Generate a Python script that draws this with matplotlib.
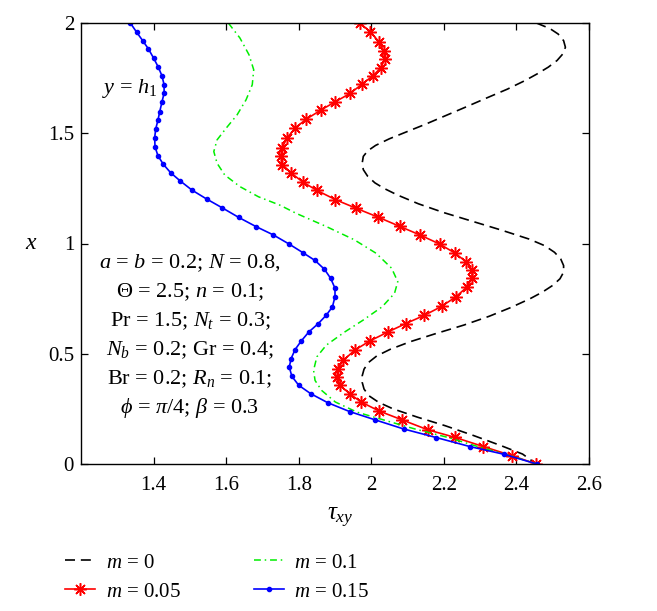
import matplotlib
matplotlib.use('Agg')
import matplotlib.pyplot as plt
from matplotlib.ticker import FuncFormatter

plt.rcParams['font.family'] = ['Liberation Serif', 'DejaVu Serif']
plt.rcParams['mathtext.fontset'] = 'custom'
plt.rcParams['mathtext.rm'] = 'Liberation Serif'
plt.rcParams['mathtext.it'] = 'Liberation Serif:italic'
plt.rcParams['mathtext.bf'] = 'Liberation Serif:bold'

# ---------------- data (tau_xy, x) ----------------
m0_tau = [2.455, 2.492, 2.515, 2.530, 2.535, 2.528, 2.512, 2.488, 2.458, 2.425, 2.375, 2.318,
          2.262, 2.205, 2.148, 2.095, 2.050, 2.012, 1.990, 1.978, 1.975, 1.978, 1.990, 2.010,
          2.035, 2.072, 2.130, 2.200, 2.280, 2.360, 2.435, 2.478, 2.505, 2.522, 2.530, 2.530,
          2.520, 2.500, 2.472, 2.438, 2.385, 2.325, 2.255, 2.175, 2.108, 2.052, 2.015, 1.992,
          1.980, 1.975, 1.975, 1.980, 1.993, 2.020, 2.060, 2.128, 2.203, 2.282, 2.358, 2.417,
          2.455]
m0_x = [2.000, 1.975, 1.950, 1.920, 1.890, 1.860, 1.830, 1.800, 1.770, 1.740, 1.700, 1.660,
        1.620, 1.580, 1.540, 1.505, 1.475, 1.445, 1.420, 1.395, 1.365, 1.335, 1.305, 1.275,
        1.250, 1.220, 1.180, 1.140, 1.100, 1.060, 1.020, 0.990, 0.960, 0.930, 0.900, 0.870,
        0.840, 0.810, 0.780, 0.750, 0.710, 0.670, 0.630, 0.590, 0.555, 0.520, 0.490, 0.460,
        0.430, 0.400, 0.370, 0.340, 0.310, 0.280, 0.250, 0.212, 0.174, 0.129, 0.083, 0.045,
        0.000]

m005_tau = [1.968, 1.997, 2.021, 2.034, 2.037, 2.027, 2.004, 1.974, 1.942, 1.901, 1.861, 1.820,
            1.791, 1.768, 1.754, 1.751, 1.755, 1.779, 1.811, 1.850, 1.901, 1.958, 2.018, 2.078,
            2.135, 2.189, 2.232, 2.261, 2.278, 2.278, 2.264, 2.233, 2.194, 2.146, 2.095, 2.045,
            1.996, 1.954, 1.923, 1.908, 1.906, 1.914, 1.940, 1.972, 2.022, 2.085, 2.156, 2.230,
            2.309, 2.387, 2.455]
m005_x = [2.000, 1.961, 1.915, 1.874, 1.836, 1.798, 1.760, 1.722, 1.681, 1.643, 1.605, 1.563,
          1.525, 1.479, 1.434, 1.396, 1.358, 1.320, 1.279, 1.241, 1.199, 1.160, 1.120, 1.078,
          1.038, 0.997, 0.955, 0.917, 0.879, 0.845, 0.803, 0.758, 0.715, 0.674, 0.637, 0.598,
          0.558, 0.516, 0.470, 0.432, 0.395, 0.357, 0.319, 0.281, 0.240, 0.200, 0.155, 0.121,
          0.079, 0.038, 0.000]

m01_tau = [1.606, 1.638, 1.663, 1.676, 1.672, 1.655, 1.630, 1.600, 1.575, 1.566, 1.575, 1.596,
           1.638, 1.689, 1.748, 1.794, 1.876, 1.953, 2.013, 2.056, 2.073, 2.064, 2.030, 1.978,
           1.927, 1.876, 1.850, 1.841, 1.845, 1.863, 1.901, 1.961, 2.040, 2.120, 2.210, 2.300,
           2.383, 2.455]
m01_x = [2.000, 1.932, 1.856, 1.788, 1.720, 1.652, 1.583, 1.523, 1.470, 1.417, 1.364, 1.311,
         1.258, 1.212, 1.174, 1.136, 1.077, 1.017, 0.956, 0.888, 0.827, 0.774, 0.713, 0.653,
         0.599, 0.539, 0.486, 0.425, 0.379, 0.334, 0.281, 0.235, 0.197, 0.159, 0.121, 0.076,
         0.038, 0.000]

m015_tau = [1.336, 1.353, 1.370, 1.386, 1.400, 1.413, 1.423, 1.429, 1.429, 1.423, 1.417, 1.412,
            1.406, 1.403, 1.404, 1.412, 1.427, 1.447, 1.474, 1.506, 1.546, 1.589, 1.635, 1.682,
            1.730, 1.773, 1.811, 1.845, 1.871, 1.888, 1.900, 1.900, 1.893, 1.876, 1.854, 1.828,
            1.807, 1.790, 1.779, 1.774, 1.781, 1.800, 1.833, 1.880, 1.940, 2.011, 2.089, 2.179,
            2.272, 2.366, 2.456]
m015_x = [2.000, 1.959, 1.920, 1.882, 1.841, 1.800, 1.761, 1.720, 1.682, 1.641, 1.598, 1.559,
          1.520, 1.480, 1.439, 1.398, 1.359, 1.321, 1.283, 1.242, 1.202, 1.162, 1.118, 1.077,
          1.039, 0.998, 0.959, 0.923, 0.883, 0.842, 0.797, 0.759, 0.713, 0.675, 0.637, 0.599,
          0.558, 0.519, 0.478, 0.440, 0.398, 0.357, 0.319, 0.278, 0.238, 0.200, 0.159, 0.120,
          0.079, 0.044, 0.000]

labels = ['$m$ = 0', '$m$ = 0.05', '$m$ = 0.1', '$m$ = 0.15']
xticks = [1.4, 1.6, 1.8, 2.0, 2.2, 2.4, 2.6]
yticks = [0, 0.5, 1.0, 1.5, 2.0]

param_lines = [r'$a$ = $b$ = 0.2; $N$ = 0.8,',
               r'$\Theta$ = 2.5; $n$ = 0.1;',
               r'Pr = 1.5; $N_t$ = 0.3;',
               r'$N_b$ = 0.2; Gr = 0.4;',
               r'Br = 0.2; $R_n$ = 0.1;',
               r'$\phi$ = $\pi/4$; $\beta$ = 0.3']

FS = 15

fig = plt.figure(figsize=(6.57, 6.11), dpi=100)
ax = fig.add_axes([81/657, 1-464/611, (589-81)/657, (464-23)/611])

h0, = ax.plot(m0_tau, m0_x, color='black', lw=1.2, linestyle=(0, (6, 3.5)))
h1, = ax.plot(m005_tau, m005_x, color='#ff0000', lw=1.2, marker=(8, 2, 0),
              markersize=9, markeredgewidth=1.1)
h2, = ax.plot(m01_tau, m01_x, color='#00ee00', lw=1.1, linestyle=(0, (4.5, 2.5, 1, 2.5)))
h3, = ax.plot(m015_tau, m015_x, color='#0000ff', lw=1.2, marker='.', markersize=6)

ax.set_xlim(1.2, 2.6)
ax.set_ylim(0, 2)
ax.set_xticks(xticks)
ax.set_yticks(yticks)
fmt = FuncFormatter(lambda v, p: '%g' % v)
ax.xaxis.set_major_formatter(fmt)
ax.yaxis.set_major_formatter(fmt)
ax.tick_params(direction='in', top=True, right=True, length=5, width=0.9, labelsize=FS)
ax.tick_params(axis='x', pad=9)
ax.tick_params(axis='y', pad=5)
for s in ax.spines.values():
    s.set_linewidth(1.0)

ax.set_xlabel(r'$\tau_{xy}$', fontsize=FS + 3)
ax.xaxis.set_label_coords(0.51, -0.095)
ax.set_ylabel('$x$', fontsize=FS + 2, rotation=0, ha='center', va='center')
ax.yaxis.set_label_coords(-0.097, 0.5)

ax.text(1.335, 1.705, r'$y$ = $h_1$', fontsize=FS + 1, ha='center', va='center')
y0 = 0.91
for i, line in enumerate(param_lines):
    ax.text(1.50, y0 - i * 0.131, line, fontsize=FS + 1, ha='center', va='center')

fig.legend([h0, h1, h2, h3], labels, ncol=2, loc='upper left',
           bbox_to_anchor=(65/657, 1 - 553/611), frameon=False, fontsize=FS,
           borderpad=0, borderaxespad=0, handlelength=1.45, handletextpad=0.5,
           columnspacing=3.5, labelspacing=0.45)

fig.savefig('out.png', dpi=100)
